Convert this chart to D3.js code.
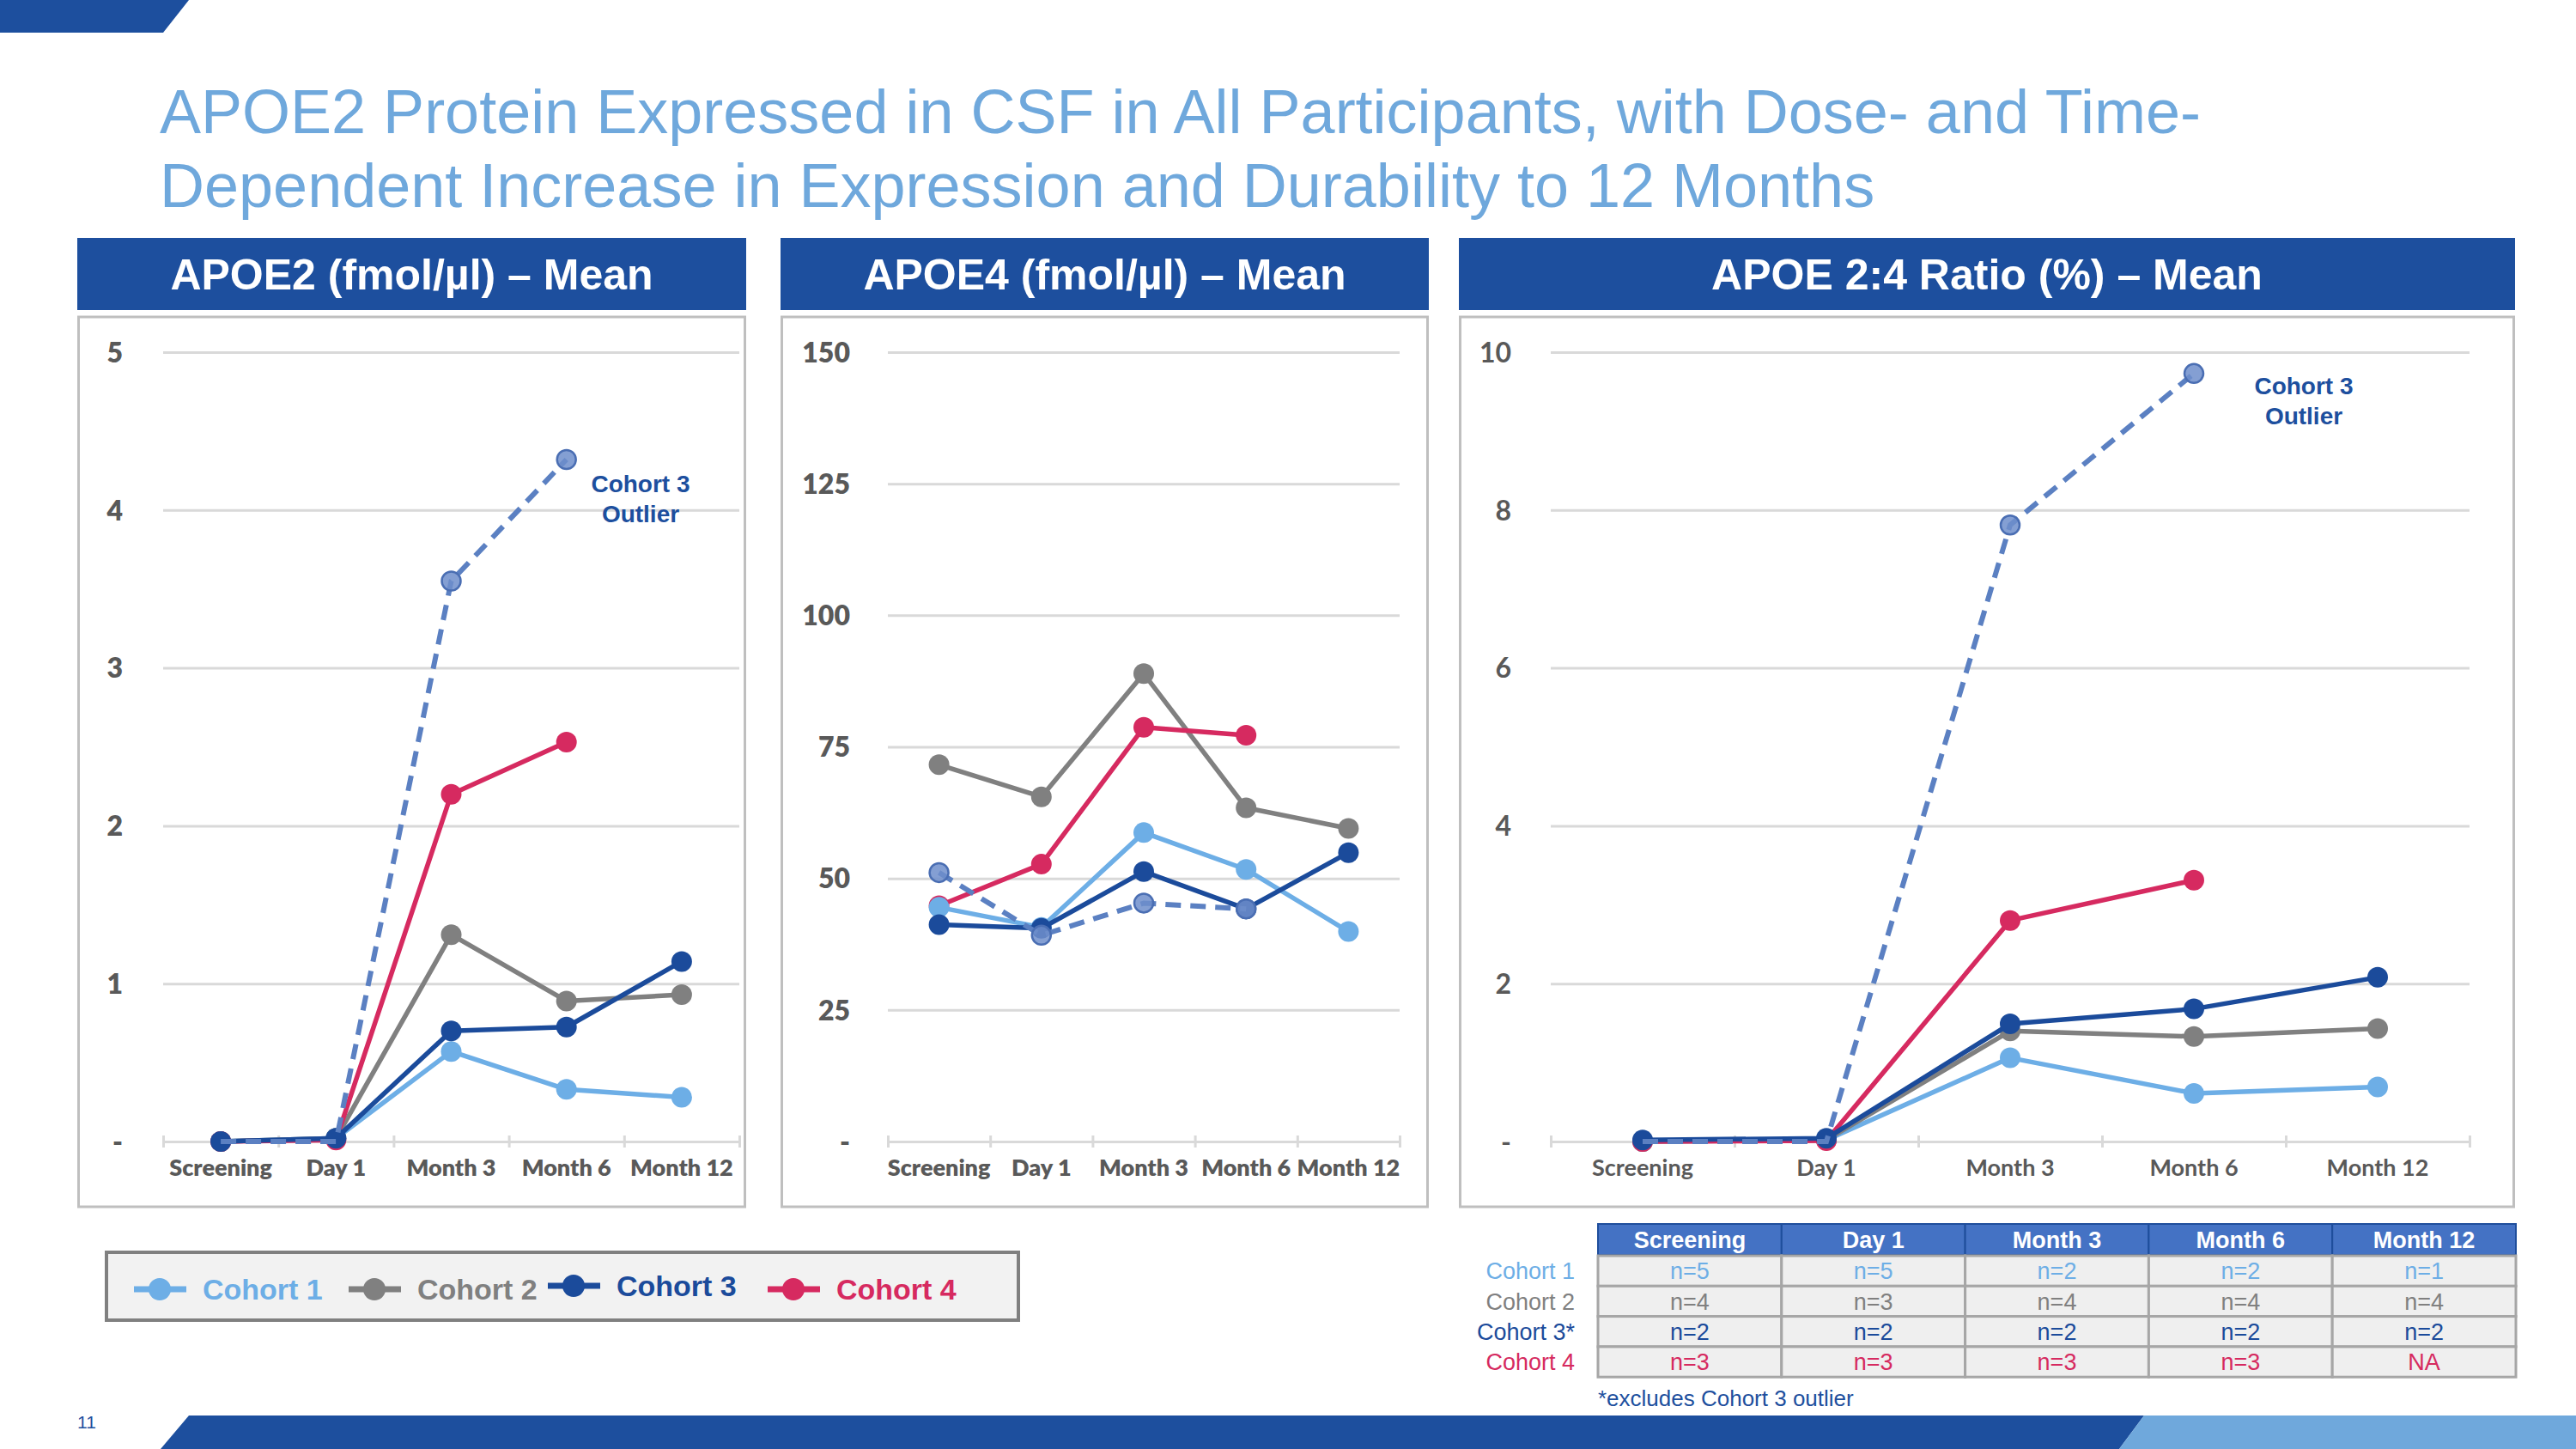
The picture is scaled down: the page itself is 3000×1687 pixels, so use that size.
<!DOCTYPE html>
<html><head><meta charset="utf-8">
<script src="https://cdn.jsdelivr.net/npm/d3@7"></script>
<style>body{margin:0;background:#fff;overflow:hidden}</style>
</head><body>
<svg id="c" width="3000" height="1687" xmlns="http://www.w3.org/2000/svg"></svg>
<script>
// ---------------- DATA ----------------
const categories = ["Screening", "Day 1", "Month 3", "Month 6", "Month 12"];
const cohortNames = ["Cohort 1", "Cohort 2", "Cohort 3", "Cohort 4"];
const outlierName = "Cohort 3 Outlier";

// APOE2 (fmol/µl) – Mean
const apoe2_c1 = [0, 0.02, 0.57, 0.33, 0.28];
const apoe2_c2 = [0, 0.02, 1.31, 0.89, 0.93];
const apoe2_c3 = [0, 0.02, 0.70, 0.725, 1.14];
const apoe2_c4 = [0, 0.01, 2.20, 2.53, null];
const apoe2_out = [0, 0.0, 3.55, 4.32, null];

// APOE4 (fmol/µl) – Mean
const apoe4_c1 = [44.5, 40.7, 58.7, 51.7, 39.9];
const apoe4_c2 = [71.6, 65.5, 88.9, 63.4, 59.5];
const apoe4_c3 = [41.2, 40.5, 51.3, 44.2, 54.9];
const apoe4_c4 = [44.8, 52.7, 78.7, 77.2, null];
const apoe4_out = [51.1, 39.2, 45.3, 44.2, null];

// APOE 2:4 Ratio (%) – Mean
const ratio_c1 = [0, 0.02, 1.06, 0.61, 0.69];
const ratio_c2 = [0, 0.02, 1.40, 1.33, 1.43];
const ratio_c3 = [0.02, 0.04, 1.49, 1.68, 2.08];
const ratio_c4 = [0, 0.01, 2.80, 3.31, null];
const ratio_out = [0, 0.0, 7.81, 9.73, null];

const apoe2Ticks = [0, 1, 2, 3, 4, 5];
const apoe4Ticks = [0, 25, 50, 75, 100, 125, 150];
const ratioTicks = [0, 2, 4, 6, 8, 10];

const panelTitles = ["APOE2 (fmol/\u00b5l) \u2013 Mean", "APOE4 (fmol/\u00b5l) \u2013 Mean", "APOE 2:4 Ratio (%) \u2013 Mean"];
const titleLines = ["APOE2 Protein Expressed in CSF in All Participants, with Dose- and Time-",
                    "Dependent Increase in Expression and Durability to 12 Months"];

// n-table
const tableCounts = [
  ["n=5", "n=5", "n=2", "n=2", "n=1"],
  ["n=4", "n=3", "n=4", "n=4", "n=4"],
  ["n=2", "n=2", "n=2", "n=2", "n=2"],
  ["n=3", "n=3", "n=3", "n=3", "NA"]
];
const tableRowLabels = ["Cohort 1", "Cohort 2", "Cohort 3*", "Cohort 4"];
const footnote = "*excludes Cohort 3 outlier";
const pageNumber = "11";

// ---------------- STYLE ----------------
const DARK = "#1D4F9E";
const LIGHT = "#6FA8DC";
const colors = ["#6DAEE6", "#808080", "#1B4B9B", "#D62A60"];
const outColor = "#5B80C2";

const svg = d3.select("#c");

// decorations
svg.append("polygon").attr("points", "0,0 220,0 190,38 0,38").attr("fill", DARK);
svg.append("polygon").attr("points", "220,1648 2497,1648 2468,1687 187,1687").attr("fill", DARK);
svg.append("polygon").attr("points", "2497,1648 3000,1648 3000,1687 2468,1687").attr("fill", LIGHT);
svg.append("text").attr("x", 101).attr("y", 1663).attr("text-anchor", "middle")
  .attr("font-family", "Liberation Sans, Arial").attr("font-size", 21).attr("fill", DARK).text(pageNumber);

// title
svg.selectAll("text.title").data(titleLines).enter().append("text")
  .attr("x", 186).attr("y", (d, i) => 155 + i * 86)
  .attr("font-family", "Liberation Sans, Arial").attr("font-size", 72).attr("fill", LIGHT)
  .text(d => d);

// ---------------- PANELS ----------------
const panels = [
  { title: panelTitles[0], box: [90, 869], x: [190, 861], dom: [0, 5], ticks: apoe2Ticks, labelRight: 143,
    series: [apoe2_c1, apoe2_c2, apoe2_c4, apoe2_c3], order: [0, 1, 3, 2], out: apoe2_out,
    ann: [746, 563, 598], font: "Lato", weight: 800 },
  { title: panelTitles[1], box: [909, 1664], x: [1034, 1630], dom: [0, 150], ticks: apoe4Ticks, labelRight: 990,
    series: [apoe4_c2, apoe4_c4, apoe4_c1, apoe4_c3], order: [1, 3, 0, 2], out: apoe4_out,
    ann: null, font: "Lato", weight: 800 },
  { title: panelTitles[2], box: [1699, 2929], x: [1806, 2876], dom: [0, 10], ticks: ratioTicks, labelRight: 1760,
    series: [ratio_c1, ratio_c2, ratio_c4, ratio_c3], order: [0, 1, 3, 2], out: ratio_out,
    ann: [2683, 449, 484], font: "Lato", weight: 700 }
];

const yTop = 410, yBot = 1329;

panels.forEach(p => {
  // header bar
  svg.append("rect").attr("x", p.box[0]).attr("y", 277).attr("width", p.box[1] - p.box[0]).attr("height", 84)
    .attr("fill", DARK);
  svg.append("text").attr("x", (p.box[0] + p.box[1]) / 2).attr("y", 337).attr("text-anchor", "middle")
    .attr("font-family", "Liberation Sans, Arial").attr("font-weight", "bold").attr("font-size", 50)
    .attr("fill", "#fff").text(p.title);
  // chart box
  svg.append("rect").attr("x", p.box[0] + 1.5).attr("y", 369).attr("width", p.box[1] - p.box[0] - 3).attr("height", 1036)
    .attr("fill", "#fff").attr("stroke", "#BFBFBF").attr("stroke-width", 3);

  const x = d3.scaleBand().domain(categories).range(p.x);
  const y = d3.scaleLinear().domain(p.dom).range([yBot, yTop]);
  const g = svg.append("g");

  // y axis with gridlines
  const ya = g.append("g").attr("transform", `translate(${p.x[0]},0)`)
    .call(d3.axisLeft(y).tickValues(p.ticks).tickSize(-(p.x[1] - p.x[0])).tickPadding(p.x[0] - p.labelRight)
      .tickFormat(d => d === 0 ? "-" : d));
  ya.select(".domain").remove();
  ya.selectAll(".tick line").attr("stroke", "#D9D9D9").attr("stroke-width", 3);
  ya.selectAll(".tick text").attr("font-family", p.font).attr("font-weight", p.weight).attr("font-size", 32)
    .attr("fill", "#595959").attr("dy", "0.35em");

  // x axis boundary ticks
  const xb = d3.scaleLinear().domain([0, categories.length]).range(p.x);
  const xt = g.append("g").attr("transform", `translate(0,${yBot - 7})`)
    .call(d3.axisBottom(xb).ticks(categories.length).tickSize(14).tickFormat(""));
  xt.select(".domain").remove();
  xt.selectAll(".tick line").attr("stroke", "#D9D9D9").attr("stroke-width", 3);

  // x labels
  const xa = g.append("g").attr("transform", `translate(0,${yBot})`)
    .call(d3.axisBottom(x).tickSize(0).tickPadding(21));
  xa.select(".domain").remove();
  xa.selectAll(".tick text").attr("font-family", p.font).attr("font-weight", p.weight).attr("font-size", 27)
    .attr("fill", "#595959");

  const line = d3.line().defined(d => d != null)
    .x((d, i) => x(categories[i]) + x.bandwidth() / 2).y(d => y(d));

  // cohort series
  p.series.forEach((s, k) => {
    const col = colors[p.order[k]];
    g.append("path").attr("d", line(s)).attr("fill", "none").attr("stroke", col).attr("stroke-width", 5.5)
      .attr("stroke-linejoin", "round");
    g.selectAll(null).data(s.map((v, i) => ({ v, i })).filter(d => d.v != null)).enter().append("circle")
      .attr("cx", d => x(categories[d.i]) + x.bandwidth() / 2).attr("cy", d => y(d.v)).attr("r", 12)
      .attr("fill", col);
  });

  // outlier (dashed)
  g.append("path").attr("d", line(p.out)).attr("fill", "none").attr("stroke", outColor).attr("stroke-width", 6)
    .attr("stroke-dasharray", "18,11");
  g.selectAll(null).data(p.out.map((v, i) => ({ v, i })).filter(d => d.v != null && d.i >= 2 || (p.dom[1] === 150 && d.v != null))).enter()
    .append("circle")
    .attr("cx", d => x(categories[d.i]) + x.bandwidth() / 2).attr("cy", d => y(d.v)).attr("r", 11)
    .attr("fill", "#6F8ECB").attr("fill-opacity", 0.85).attr("stroke", "#4A6EB3").attr("stroke-width", 2.5);

  if (p.ann) {
    ["Cohort 3", "Outlier"].forEach((t, i) => {
      svg.append("text").attr("x", p.ann[0]).attr("y", p.ann[1 + i]).attr("dy", "0.35em").attr("text-anchor", "middle")
        .attr("font-family", "Liberation Sans, Arial").attr("font-weight", "bold").attr("font-size", 28)
        .attr("fill", DARK).text(t);
    });
  }
});

// ---------------- LEGEND ----------------
svg.append("rect").attr("x", 124).attr("y", 1458).attr("width", 1062).attr("height", 79)
  .attr("fill", "#F2F2F2").attr("stroke", "#808080").attr("stroke-width", 4);
const legendX = [156, 406, 638, 894];
cohortNames.forEach((n, i) => {
  const lx = legendX[i], cy = i === 2 ? 1497 : 1501;
  svg.append("line").attr("x1", lx).attr("x2", lx + 61).attr("y1", cy).attr("y2", cy)
    .attr("stroke", colors[i]).attr("stroke-width", 7);
  svg.append("circle").attr("cx", lx + 30).attr("cy", cy).attr("r", 13).attr("fill", colors[i]);
  svg.append("text").attr("x", lx + 80).attr("y", cy).attr("dy", "0.36em")
    .attr("font-family", "Liberation Sans, Arial").attr("font-weight", "bold").attr("font-size", 34)
    .attr("fill", colors[i]).text(n);
});

// ---------------- TABLE ----------------
const tx0 = 1861, colW = 213.8, hy = 1425, hh = 36, rh = 35.3;
categories.forEach((c, j) => {
  svg.append("rect").attr("x", tx0 + j * colW).attr("y", hy).attr("width", colW).attr("height", hh)
    .attr("fill", "#4472C4").attr("stroke", "#1F4E9C").attr("stroke-width", 2);
  svg.append("text").attr("x", tx0 + j * colW + colW / 2).attr("y", hy + hh / 2).attr("dy", "0.36em")
    .attr("text-anchor", "middle").attr("font-family", "Liberation Sans, Arial").attr("font-weight", "bold")
    .attr("font-size", 27).attr("fill", "#fff").text(c);
});
tableCounts.forEach((row, r) => {
  const ry = hy + hh + 1 + r * rh;
  svg.append("text").attr("x", 1834).attr("y", ry + rh / 2).attr("dy", "0.36em").attr("text-anchor", "end")
    .attr("font-family", "Liberation Sans, Arial").attr("font-size", 27).attr("fill", colors[r]).text(tableRowLabels[r]);
  row.forEach((v, j) => {
    svg.append("rect").attr("x", tx0 + j * colW).attr("y", ry).attr("width", colW).attr("height", rh)
      .attr("fill", "#EFEFEF").attr("stroke", "#A6A6A6").attr("stroke-width", 3);
    svg.append("text").attr("x", tx0 + j * colW + colW / 2).attr("y", ry + rh / 2).attr("dy", "0.36em")
      .attr("text-anchor", "middle").attr("font-family", "Liberation Sans, Arial").attr("font-size", 27)
      .attr("fill", colors[r]).text(v);
  });
});
svg.append("text").attr("x", 1861).attr("y", 1628).attr("dy", "0.36em")
  .attr("font-family", "Liberation Sans, Arial").attr("font-size", 26).attr("fill", DARK).text(footnote);
</script>
</body></html>
